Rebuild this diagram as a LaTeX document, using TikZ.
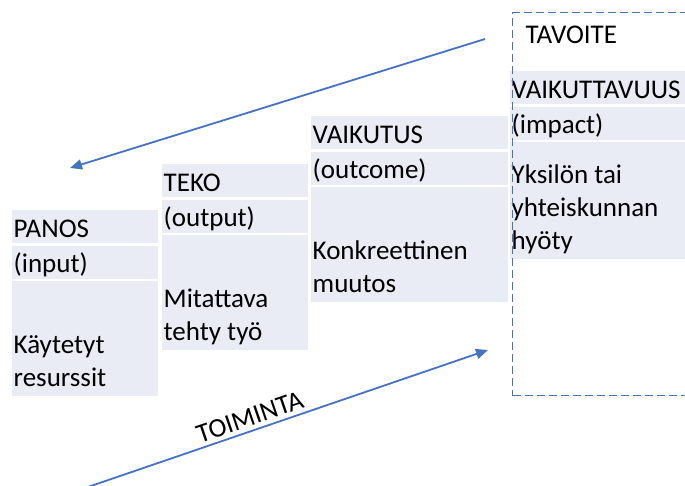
\documentclass[tikz,border=0pt]{standalone}
\usepackage{fontspec}
\setmainfont{Carlito}
\usepackage{xcolor}
\usetikzlibrary{arrows.meta, positioning}

\definecolor{cellbg}{RGB}{233,235,245}
\definecolor{officeblue}{RGB}{68,114,196}

\begin{document}
\begin{tikzpicture}[
    x=1pt, y=-1pt,
    node distance=2pt,
    every node/.style={font=\fontsize{27}{33}\selectfont},
    head/.style={rectangle, fill=cellbg, anchor=north west, inner xsep=1.5pt, inner ysep=0pt, text width=#1, align=left, text height=27pt, text depth=6pt},
    bodycell/.style={rectangle, fill=cellbg, inner sep=0pt, minimum height=115pt},
    body/.style={anchor=south west, align=left, inner xsep=1.5pt, inner ysep=0pt, execute at end node=\strut},
    goalbox/.style={rectangle, draw=officeblue, line width=1.4pt, dash pattern=on 8pt off 4pt, anchor=north west, inner sep=0pt},
    flow/.style={-{Triangle[length=12pt, width=10pt]}, line width=1.8pt, officeblue}
]
\useasboundingbox (0,0) rectangle (685,486);
\clip (0,0) rectangle (685,486);

% panos
\node[head=143pt] (panos) at (12,210) {PANOS};
\node[head=143pt, below=of panos] (input) {(input)};
\node[bodycell, minimum width=146pt, below=of input] (panosbody) {};
\node[body] (panostxt) at (panosbody.south west) {Käytetyt\\resurssit};

% teko
\node[head=143pt] (teko) at (162,164) {TEKO};
\node[head=143pt, below=of teko] (output) {(output)};
\node[bodycell, minimum width=146pt, below=of output] (tekobody) {};
\node[body] (tekotxt) at (tekobody.south west) {Mitattava\\tehty työ};

% vaikutus
\node[head=194pt] (vaikutus) at (311,116) {VAIKUTUS};
\node[head=194pt, below=of vaikutus] (outcome) {(outcome)};
\node[bodycell, minimum width=197pt, below=of outcome] (vaikutusbody) {};
\node[body] (vaikutustxt) at (vaikutusbody.south west) {Konkreettinen\\muutos};

% vaikuttavuus
\node[head=182pt] (vaikuttavuus) at (510,71) {VAIKUTTAVUUS};
\node[head=182pt, below=of vaikuttavuus] (impact) {(impact)};
\node[bodycell, minimum width=185pt, minimum height=117pt, below=of impact] (vaikuttavuusbody) {};
\node[body] (vaikuttavuustxt) at (vaikuttavuusbody.south west) {Yksilön tai\\yhteiskunnan\\hyöty};

% tavoite
\node[goalbox, minimum width=190pt, minimum height=383pt] (goal) at (512,12) {};
\node[anchor=west] (tavoite) at (522,35) {TAVOITE};

% arrows
\coordinate (backstart) at (485,39);
\coordinate (backend) at (70,168);
\draw[flow] (backstart) -- (backend);

\coordinate (actstart) at (85,488);
\coordinate (actend) at (488,350);
\draw[flow] (actstart) -- node[sloped, above, pos=0.42, text=black, inner sep=4pt] (toiminta) {TOIMINTA} (actend);
\end{tikzpicture}
\end{document}
